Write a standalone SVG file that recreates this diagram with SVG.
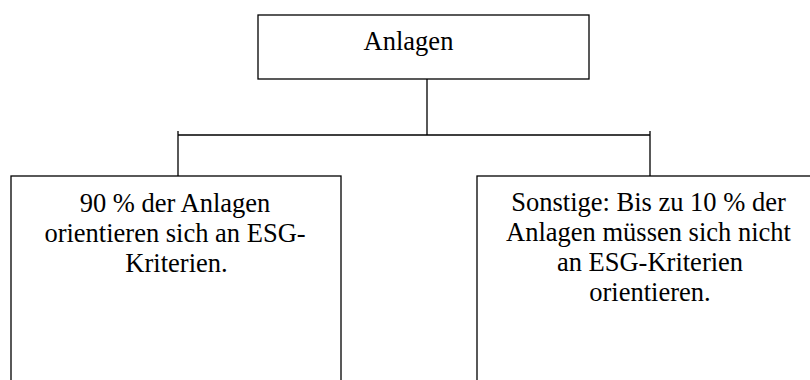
<svg xmlns="http://www.w3.org/2000/svg" width="810" height="380" viewBox="0 0 810 380">
<style>
.box{fill:#fff;stroke:#000;stroke-width:1.3}
.ln{fill:none;stroke:#000;stroke-width:1.3}
text{font-family:"Liberation Serif","Times New Roman",serif;font-size:26.5px;fill:#000;text-anchor:middle}
</style>
<rect width="810" height="380" fill="#fff"/>
<g id="connectors">
<path class="ln" d="M427,79 V135 M178,135 H650 M178,131 V176 M650,131 V176"/>
</g>
<g id="node-anlagen">
<rect class="box" x="258" y="15" width="331" height="64"/>
<text x="408.5" y="50">Anlagen</text>
</g>
<g id="node-esg">
<rect class="box" x="11" y="176" width="330" height="220"/>
<text x="175" y="212">90 % der Anlagen</text>
<text x="175" y="242">orientieren sich an ESG-</text>
<text x="176.5" y="272">Kriterien.</text>
</g>
<g id="node-sonstige">
<rect class="box" x="477" y="176" width="345" height="220"/>
<text x="648.5" y="211">Sonstige: Bis zu 10 % der</text>
<text x="648.5" y="241">Anlagen müssen sich nicht</text>
<text x="650" y="271">an ESG-Kriterien</text>
<text x="650" y="301">orientieren.</text>
</g>
</svg>
